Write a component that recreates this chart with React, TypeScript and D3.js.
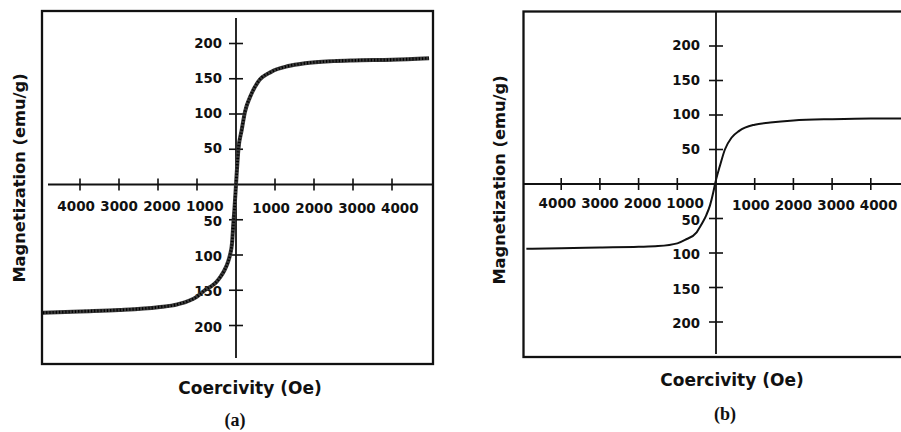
import React from 'react';
import * as d3 from 'd3';

const fieldA = [-4950, -4000, -3000, -2000, -1500, -1000, -800, -600, -500, -400, -300, -200, -154, -100, -68, -40, 0, 25, 60, 145, 230, 360, 570, 910, 1340, 1770, 2500, 3000, 4000, 4950];
const magA = [-182, -180, -178, -174, -170, -159, -150, -143, -138, -131, -122, -109, -100, -82, -55, -35, 0, 22, 49, 77, 103, 124, 146, 160, 168, 172, 175, 176, 177, 179];

const fieldB = [-4900, -4000, -3000, -2000, -1500, -1000, -800, -500, -400, -330, -250, -155, -70, -25, 0, 100, 230, 400, 600, 1000, 1400, 2000, 3000, 4000, 4900];
const magB = [-94, -93, -92, -91, -90, -86, -81, -70, -61, -54, -45, -31, -12, 0, 6, 26, 50, 67, 77, 86, 89, 92, 94, 95, 95];

const xTicks = [-4000, -3000, -2000, -1000, 1000, 2000, 3000, 4000];
const yTicks = [200, 150, 100, 50, -50, -100, -150, -200];
const xTickLabels = ['4000', '3000', '2000', '1000', '1000', '2000', '3000', '4000'];
const yTickLabels = ['200', '150', '100', '50', '50', '100', '150', '200'];

const xTitle = 'Coercivity (Oe)';
const yTitle = 'Magnetization (emu/g)';

const FONT = '"DejaVu Sans", Verdana, sans-serif';

type PanelProps = {
  id: string;
  field: number[];
  mag: number[];
  ox: number; // origin x
  oy: number; // origin y
  pxPerKOe: number;
  pxPerUnit: number;
  box: { x0: number; x1: number; y0: number; y1: number };
  vAxis: [number, number];
  hAxisStart: number;
  lineWidth: number;
  lineColor: string;
  textured: boolean;
  yTitleX: number;
  yTitleY: number;
  xTitleX: number;
  xTitleY: number;
  tag: string;
  tagX: number;
  tagY: number;
  yLabelGap: number;
  xLabelDy: number;
};

function Panel(p: PanelProps) {
  const x = d3.scaleLinear().domain([-5000, 5000]).range([p.ox - 5 * p.pxPerKOe, p.ox + 5 * p.pxPerKOe]);
  const y = d3.scaleLinear().domain([-250, 250]).range([p.oy + 250 * p.pxPerUnit, p.oy - 250 * p.pxPerUnit]);

  const pts = p.field.map((h, i) => [h, p.mag[i]] as [number, number]);
  const line = d3.line<[number, number]>()
    .x(d => x(d[0]))
    .y(d => y(d[1]))
    .curve(d3.curveMonotoneX);
  const path = line(pts) || '';

  const { x0, x1, y0, y1 } = p.box;

  // the labels in the original sit a little wider apart than their ticks
  const labelX = (t: number) => {
    const gc = x(t < 0 ? -2500 : 2500);
    return gc + (x(t) - gc) * 1.1 + 2;
  };

  return (
    <g>
      <defs>
        <clipPath id={`clip-${p.id}`}>
          <rect x={x0} y={y0} width={x1 - x0} height={y1 - y0} />
        </clipPath>
      </defs>
      <rect x={x0} y={y0} width={x1 - x0} height={y1 - y0} fill="none" stroke="#111" strokeWidth={2.3} />

      {/* axes through origin */}
      <line x1={p.ox} x2={p.ox} y1={p.vAxis[0]} y2={p.vAxis[1]} stroke="#111" strokeWidth={1.8} />
      <line x1={p.hAxisStart} x2={x1} y1={p.oy} y2={p.oy} stroke="#111" strokeWidth={1.8} />

      {xTicks.map((t, i) => (
        <g key={`xt${i}`}>
          <line x1={x(t)} x2={x(t)} y1={p.oy - 6} y2={p.oy + 6} stroke="#111" strokeWidth={1.6} />
          <text x={labelX(t)} y={p.oy + p.xLabelDy + (t > 0 ? 1.5 : 0)} textAnchor="middle" dominantBaseline="middle"
            fontFamily={FONT} fontWeight="bold" fontSize={13.5} fill="#111">{xTickLabels[i]}</text>
        </g>
      ))}
      {yTicks.map((t, i) => (
        <g key={`yt${i}`}>
          <line x1={p.ox - 7} x2={p.ox + 7} y1={y(t)} y2={y(t)} stroke="#111" strokeWidth={1.6} />
          <text x={p.ox - p.yLabelGap} y={y(t) + (t < 0 ? 2 : 0)} textAnchor="end" dominantBaseline="middle"
            fontFamily={FONT} fontWeight="bold" fontSize={13.3} fill="#111">{yTickLabels[i]}</text>
        </g>
      ))}

      <g clipPath={`url(#clip-${p.id})`}>
        {p.textured ? (
          <>
            <path d={path} fill="none" stroke="#3a3a3a" strokeWidth={p.lineWidth} strokeLinejoin="round" />
            <path d={path} fill="none" stroke="#000" strokeWidth={p.lineWidth - 1.2} strokeDasharray="1.2 2" />
          </>
        ) : (
          <path d={path} fill="none" stroke={p.lineColor} strokeWidth={p.lineWidth} strokeLinejoin="round" />
        )}
      </g>

      <text x={p.xTitleX} y={p.xTitleY} textAnchor="middle" fontFamily={FONT} fontWeight="bold"
        fontSize={17} fill="#111">{xTitle}</text>
      <text transform={`translate(${p.yTitleX},${p.yTitleY}) rotate(-90)`} textAnchor="middle"
        fontFamily={FONT} fontWeight="bold" fontSize={16.3} fill="#111">{yTitle}</text>
      <text x={p.tagX} y={p.tagY} textAnchor="middle" fontFamily='"Liberation Serif", "Times New Roman", serif'
        fontWeight="bold" fontSize={18} fill="#111">{p.tag}</text>
    </g>
  );
}

export default function App() {
  return (
    <svg width={901} height={432} style={{ position: 'absolute', left: 0, top: 0, background: '#fff' }}>
      <rect width={901} height={432} fill="#fff" />
      <Panel id="a" field={fieldA} mag={magA} ox={236} oy={184.5} pxPerKOe={39} pxPerUnit={0.705}
        box={{ x0: 42, x1: 433, y0: 11, y1: 364 }} vAxis={[18, 358]} hAxisStart={48}
        lineWidth={4} lineColor="#222" textured
        yTitleX={25} yTitleY={178} xTitleX={250} xTitleY={394}
        tag="(a)" tagX={235} tagY={426} yLabelGap={14} xLabelDy={22.5} />
      <Panel id="b" field={fieldB} mag={magB} ox={716} oy={184} pxPerKOe={38.7} pxPerUnit={0.69}
        box={{ x0: 523.5, x1: 910, y0: 11.5, y1: 357 }} vAxis={[11.5, 354]} hAxisStart={523.5}
        lineWidth={2} lineColor="#111" textured={false}
        yTitleX={505} yTitleY={180} xTitleX={732} xTitleY={386}
        tag="(b)" tagX={725} tagY={420} yLabelGap={16} xLabelDy={20} />
    </svg>
  );
}
